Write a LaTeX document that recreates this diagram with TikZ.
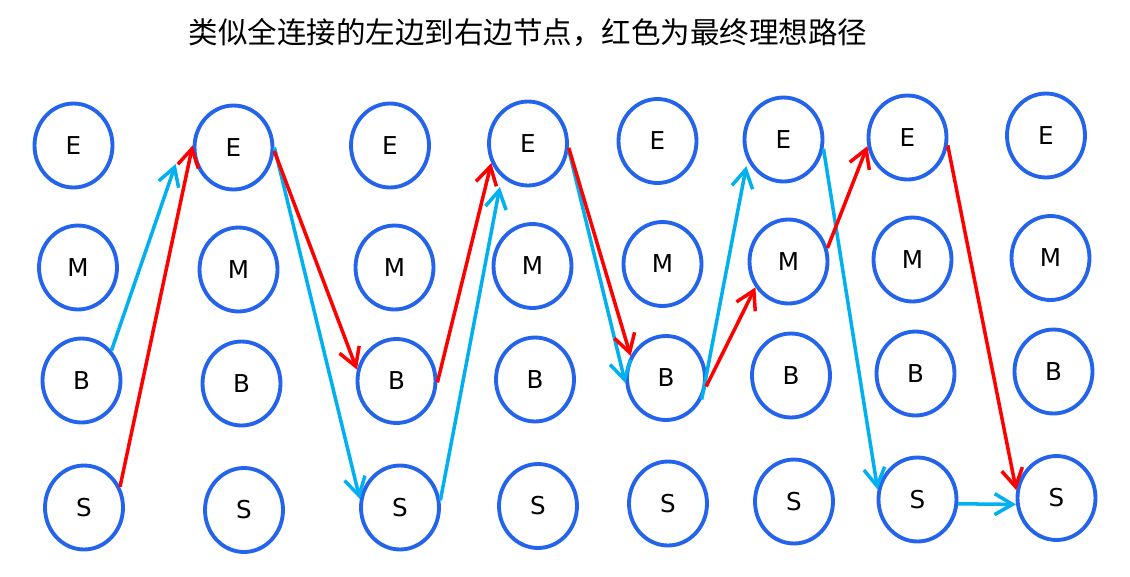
\documentclass[tikz,border=0pt]{standalone}
\usepackage{fontspec}
\setmainfont{DejaVu Sans}
\newfontfamily\cjk{Noto Sans CJK SC}
\usetikzlibrary{arrows.meta,shapes.geometric}
\definecolor{nodeblue}{RGB}{36,99,235}
\definecolor{pathred}{RGB}{255,0,0}
\definecolor{pathcyan}{RGB}{0,176,240}
\tikzset{
	st/.style={ellipse,draw=nodeblue,line width=2.2pt,minimum width=1.56cm,minimum height=1.68cm,inner sep=0pt,font=\fontsize{14}{16}\selectfont},
	redpath/.style={draw=pathred,line width=2pt,-{Straight Barb[length=0.36cm,width=0.42cm]}},
	cyanpath/.style={draw=pathcyan,line width=2pt,-{Straight Barb[length=0.36cm,width=0.42cm]}}
}
\begin{document}
\begin{tikzpicture}[x=0.02cm,y=-0.02cm]
		\useasboundingbox (0,0) rectangle (1130,576);
		\node (title) at (528,33) {\cjk\fontsize{16.8}{20}\selectfont 类似全连接的左边到右边节点，红色为最终理想路径};
		% states, one column per step
		\node[st] (E1) at (73.5,145.5){E}; \node[st] (M1) at (78,267.5){M}; \node[st] (B1) at (81.5,380.5){B}; \node[st] (S1) at (84,507.5){S};
		\node[st] (E2) at (233.5,147.5){E}; \node[st] (M2) at (238.5,269.5){M}; \node[st] (B2) at (241.5,383.5){B}; \node[st] (S2) at (244,510){S};
		\node[st] (E3) at (390,145.5){E}; \node[st] (M3) at (394.5,267.5){M}; \node[st] (B3) at (396.5,381){B}; \node[st] (S3) at (400,507.5){S};
		\node[st] (E4) at (528,143.5){E}; \node[st] (M4) at (532.5,266){M}; \node[st] (B4) at (535,379.5){B}; \node[st] (S4) at (538,506){S};
		\node[st] (E5) at (657.5,141){E}; \node[st] (M5) at (662.5,264){M}; \node[st] (B5) at (666,378){B}; \node[st] (S5) at (668,503.5){S};
		\node[st] (E6) at (783.5,139.5){E}; \node[st] (M6) at (788.5,261.5){M}; \node[st] (B6) at (791,375.5){B}; \node[st] (S6) at (794,501.5){S};
		\node[st] (E7) at (907.5,137.5){E}; \node[st] (M7) at (912.5,259.5){M}; \node[st] (B7) at (915.5,373.5){B}; \node[st] (S7) at (917.5,499.5){S};
		\node[st] (E8) at (1046,135.5){E}; \node[st] (M8) at (1050.5,258){M}; \node[st] (B8) at (1053.5,371.5){B}; \node[st] (S8) at (1056.5,498){S};
		\coordinate (tipB1) at (175.7,164);
		% candidate moves
		\draw[cyanpath] (B1.45)--(tipB1);
		\draw[cyanpath] (E2.0)--(S3.168);
		\draw[cyanpath,shorten >=0.2cm] (S3.10)--(E4.232);
		\draw[cyanpath] (E4.-8)--(B5.187);
		\draw[cyanpath,shorten >=0.12cm] (B5.-31)--(E6.210);
		\draw[cyanpath] (E6.-13)--(S7.166);
		\draw[cyanpath] (S7.-6)--(S8.189);
		% best path
		\draw[redpath] (S1.30)--(E2.177);
		\draw[redpath] (E2.-5)--(B3.164);
		\draw[redpath] (B3.-2)--(E4.208);
		\draw[redpath] (E4.-6)--(B5.148);
		\draw[redpath] (B5.-12)--(M6.218);
		\draw[redpath] (M6.19)--(E7.192);
		\draw[redpath] (E7.-11)--(S8.169);
	    \end{tikzpicture}
\end{document}
